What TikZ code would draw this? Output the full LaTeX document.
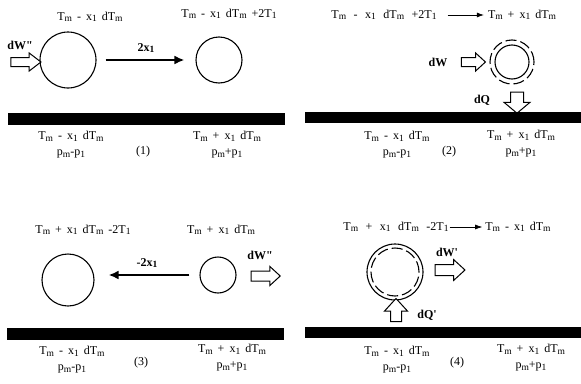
\documentclass[tikz,border=0pt]{standalone}
\usepackage{fontspec}
\setmainfont{Liberation Serif}[Ligatures=TeXOff]
\usetikzlibrary{shapes.arrows, arrows.meta, positioning}
\newcommand{\subs}[1]{\raisebox{-0.3ex}{\fontsize{9.5}{9.5}\selectfont #1}}
\newcommand{\tfont}{\fontsize{12}{16}\selectfont\spaceskip 5pt\relax}
\newcommand{\tfontwide}{\fontsize{12}{16}\selectfont\spaceskip 7.5pt\relax}
\tikzset{
  % temperature / pressure labels
  tlabel/.style={font=\tfont, inner sep=1pt, align=center},
  tlabel wide/.style={tlabel, font=\tfontwide},
  % work and heat labels
  wlabel/.style={font=\fontsize{12}{14}\selectfont\bfseries, inner sep=1pt},
  % bubble and its dashed shell
  bubble/.style={circle, draw, line width=1.1pt, inner sep=0pt},
  shell/.style={circle, draw, line width=1.1pt, inner sep=0pt, dash pattern=on 11pt off 4pt},
  % hollow arrow (pointing right; the rotated ones swap xsep and ysep)
  harrow/.style={single arrow, draw, line width=1pt, fill=white,
    minimum height=30pt, inner xsep=0pt, inner ysep=4pt,
    single arrow head extend=4.5pt, single arrow tip angle=85},
  % black plate
  plate/.style={rectangle, fill=black, inner sep=0pt, minimum width=277pt, minimum height=12pt},
  % arrows
  move/.style={-{Latex[length=10pt,width=9pt]}, line width=2.2pt},
  change/.style={-{Latex[length=7pt,width=5pt]}, semithick},
}

\begin{document}
\begin{tikzpicture}[x=1pt, y=-1pt]
  \useasboundingbox[fill=white] (0,0) rectangle (581,383);

  %% ---- PANEL (1) ----
  \node[tlabel] (t1a) at (90,17) {T\subs{m} - x\subs{1} dT\subs{m}};
  \node[tlabel] (t1b) at (229,14) {T\subs{m} - x\subs{1} dT\subs{m} +2T\subs{1}};
  \node[bubble, minimum size=56pt] (b1a) at (68,60) {};
  \node[bubble, minimum size=46pt] (b1b) at (219,60) {};
  \node[harrow, single arrow tip angle=75] (h1) at (23,62) {};
  \node[wlabel] (w1) at (20,45) {dW"};
  \draw[move, shorten <=9pt, shorten >=11pt] (b1a) -- (b1b)
    node[wlabel, midway, above=5pt] (m1) {2x\subs{1}};
  \node[plate] (bar1) at (146,118.5) {};
  \node[tlabel] (l1a) at (71,145) {T\subs{m} - x\subs{1} dT\subs{m}\\p\subs{m}-p\subs{1}};
  \node[tlabel] (n1) at (143,152) {(1)};
  \node[tlabel] (r1a) at (227,145) {T\subs{m} + x\subs{1} dT\subs{m}\\p\subs{m}+p\subs{1}};

  %% ---- PANEL (2) ----
  \node[tlabel wide] (t2a) at (384,15) {T\subs{m} - x\subs{1} dT\subs{m} +2T\subs{1}};
  \node[tlabel] (t2b) at (522,15) {T\subs{m} + x\subs{1} dT\subs{m}};
  \draw[change, shorten <=10pt, shorten >=3pt] (t2a) -- (t2b);
  \node[wlabel] (w2) at (438,62) {dW};
  \node[harrow, minimum height=24pt] (h2) at (471,62) {};
  \node[bubble, minimum size=34pt] (b2) at (512,62) {};
  \node[shell, minimum size=44pt] (s2) at (512,62) {};
  \node[wlabel] (q2) at (482,100) {dQ};
  \node[harrow, minimum height=21pt, inner xsep=6pt, inner ysep=0pt, single arrow head extend=6.5pt,
        single arrow tip angle=100, shape border rotate=270] (h2q) at (517,100) {};
  \node[plate, minimum height=11pt, minimum width=276pt] (bar2) at (443,117.5) {};
  \node[tlabel] (l2a) at (397,145) {T\subs{m} - x\subs{1} dT\subs{m}\\p\subs{m}-p\subs{1}};
  \node[tlabel] (n2) at (449,152) {(2)};
  \node[tlabel] (r2a) at (521,144) {T\subs{m} + x\subs{1} dT\subs{m}\\p\subs{m}+p\subs{1}};

  %% ---- PANEL (3) ----
  \node[tlabel] (t3a) at (83,230) {T\subs{m} + x\subs{1} dT\subs{m} -2T\subs{1}};
  \node[tlabel] (t3b) at (221,230) {T\subs{m} + x\subs{1} dT\subs{m}};
  \node[bubble, minimum size=52pt] (b3a) at (68,280) {};
  \node[bubble, minimum size=36pt] (b3b) at (218,275) {};
  \draw[move, shorten <=10pt, shorten >=14pt] (b3b.west) -- (b3b.west -| b3a.east)
    node[wlabel, midway, above=5pt] (m3) {-2x\subs{1}};
  \node[wlabel] (w3) at (260,255) {dW"};
  \node[harrow, minimum height=29pt, inner ysep=4.5pt] (h3) at (263,276) {};
  \node[plate] (bar3) at (145,333.5) {};
  \node[tlabel] (l3a) at (72,360) {T\subs{m} - x\subs{1} dT\subs{m}\\p\subs{m}-p\subs{1}};
  \node[tlabel] (n3) at (141,363) {(3)};
  \node[tlabel] (r3a) at (232,358) {T\subs{m} + x\subs{1} dT\subs{m}\\p\subs{m}+p\subs{1}};

  %% ---- PANEL (4) ----
  \node[tlabel wide] (t4a) at (396,227) {T\subs{m} + x\subs{1} dT\subs{m} -2T\subs{1}};
  \node[tlabel] (t4b) at (518,227) {T\subs{m} - x\subs{1} dT\subs{m}};
  \draw[change, shorten >=2pt] (t4a) -- (t4b);
  \node[bubble, minimum size=56pt] (b4) at (395,272) {};
  \node[shell, minimum size=48pt] (s4) at (395,272) {};
  \node[wlabel] (w4) at (447,252) {dW'};
  \node[harrow, inner ysep=5pt, single arrow head extend=5pt] (h4) at (447,270) {};
  \node[wlabel] (q4) at (427,315) {dQ'};
  \node[harrow, minimum height=23pt, inner xsep=5pt, inner ysep=0pt, single arrow head extend=6pt,
        shape border rotate=90] (h4q) at (396,313) {};
  \node[plate, minimum height=11pt, minimum width=276pt] (bar4) at (443,332.5) {};
  \node[tlabel] (l4a) at (397,360) {T\subs{m} - x\subs{1} dT\subs{m}\\p\subs{m}-p\subs{1}};
  \node[tlabel] (n4) at (457,363) {(4)};
  \node[tlabel] (r4a) at (531,358) {T\subs{m} + x\subs{1} dT\subs{m}\\p\subs{m}+p\subs{1}};

\end{tikzpicture}
\end{document}
